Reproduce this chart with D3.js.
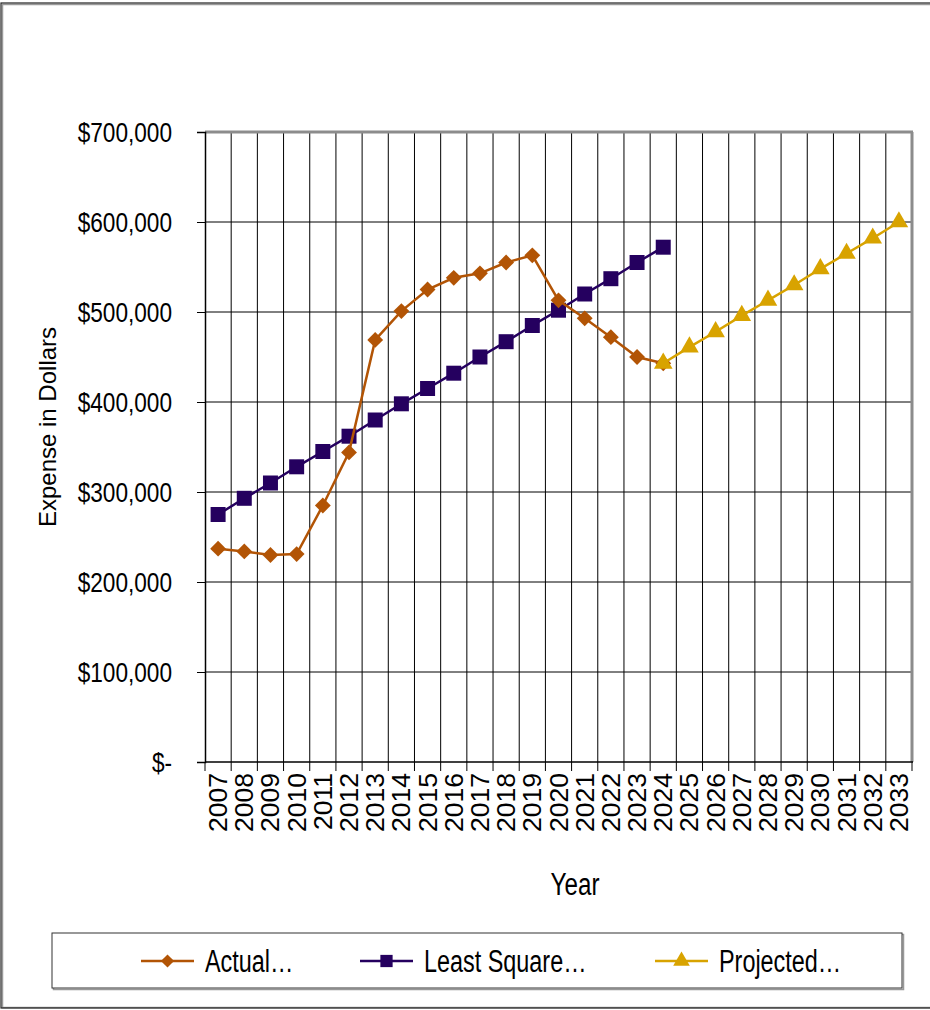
<!DOCTYPE html>
<html>
<head>
<meta charset="utf-8">
<script src="https://cdn.jsdelivr.net/npm/d3@7/dist/d3.min.js"></script>
<style>
  html, body { margin: 0; padding: 0; background: #fff; }
  svg { display: block; }
  text { font-family: "Liberation Sans", Arial, sans-serif; fill: #000; }
</style>
</head>
<body>
<svg id="chart" width="930" height="1010"></svg>
<script>
// Years on the category axis
const years = ["2007","2008","2009","2010","2011","2012","2013","2014","2015","2016","2017","2018","2019","2020","2021","2022","2023","2024","2025","2026","2027","2028","2029","2030","2031","2032","2033"];

// Actual expense, 2007-2024
const actualYears = ["2007","2008","2009","2010","2011","2012","2013","2014","2015","2016","2017","2018","2019","2020","2021","2022","2023","2024"];
const actualValues = [237000, 234000, 230000, 231000, 285000, 344000, 469000, 501000, 525000, 538000, 543000, 555000, 563000, 513000, 493000, 472000, 450000, 443000];

// Least-squares trend, 2007-2024
const lsqYears = actualYears;
const lsqValues = [275000, 293000, 310000, 328000, 345000, 362000, 380000, 398000, 415000, 432000, 450000, 467000, 485000, 502000, 520000, 537000, 555000, 572000];

// Projected expense, 2024-2033
const projYears = ["2024","2025","2026","2027","2028","2029","2030","2031","2032","2033"];
const projValues = [443000, 461000, 478000, 496000, 513000, 530000, 548000, 565000, 582000, 600000];

// Value axis ticks
const yTicks = [0, 100000, 200000, 300000, 400000, 500000, 600000, 700000];

const seriesNames = ["Actual\u2026", "Least Square\u2026", "Projected\u2026"];
const colors = { actual: "#B25405", lsq: "#25005F", proj: "#D8A300" };

const svg = d3.select("#chart");

// Outer frame
svg.append("rect")
  .attr("x", 2.5).attr("y", 4.5).attr("width", 940).attr("height", 1003)
  .attr("fill", "none").attr("stroke", "#9a9a9a").attr("stroke-width", 1.5);
svg.append("rect")
  .attr("x", 1).attr("y", 3).attr("width", 940).attr("height", 1005)
  .attr("fill", "none").attr("stroke", "#222").attr("stroke-width", 1.2);

const plot = { left: 205, right: 912, top: 132, bottom: 762 };

const x = d3.scaleBand().domain(years).range([plot.left, plot.right]).padding(0);
const y = d3.scaleLinear().domain([0, 700000]).range([plot.bottom, plot.top]);
const cx = d => x(d) + x.bandwidth() / 2;

const g = svg.append("g");

// Vertical grid lines at category boundaries
const bounds = years.map(d => x(d)).concat([plot.right]);
g.append("g").selectAll("line").data(bounds.slice(1, -1)).join("line")
  .attr("x1", d => d).attr("x2", d => d)
  .attr("y1", plot.top).attr("y2", plot.bottom)
  .attr("stroke", "#000").attr("stroke-width", 1);

// Horizontal grid lines
g.append("g").selectAll("line").data(yTicks.filter(t => t > 0 && t < 700000)).join("line")
  .attr("x1", plot.left).attr("x2", plot.right)
  .attr("y1", d => y(d)).attr("y2", d => y(d))
  .attr("stroke", "#000").attr("stroke-width", 1);

// Plot border (top and right in grey)
g.append("line").attr("x1", plot.left).attr("x2", plot.right + 1)
  .attr("y1", plot.top).attr("y2", plot.top)
  .attr("stroke", "#8c8c8c").attr("stroke-width", 3);
g.append("line").attr("x1", plot.right).attr("x2", plot.right)
  .attr("y1", plot.top).attr("y2", plot.bottom)
  .attr("stroke", "#8c8c8c").attr("stroke-width", 3);

// Y axis
const yAxis = d3.axisLeft(y).tickValues(yTicks).tickSize(8).tickPadding(0)
  .tickFormat(() => "");
const ya = svg.append("g").attr("transform", `translate(${plot.left},0)`).call(yAxis);
ya.select(".domain").attr("stroke", "#000").attr("stroke-width", 1.5);
ya.selectAll(".tick line").attr("stroke", "#000").attr("stroke-width", 1);

// Y tick labels, slightly condensed
svg.append("g").selectAll("text").data(yTicks).join("text")
  .attr("transform", d => `translate(172,${y(d) + 10}) scale(0.87,1.06)`)
  .attr("text-anchor", "end")
  .style("font-size", "26px")
  .text(d => d === 0 ? "$-" : "$" + d3.format(",")(d));

// X axis with ticks at category boundaries
const xa = svg.append("g").attr("transform", `translate(0,${plot.bottom})`);
xa.append("line").attr("x1", plot.left).attr("x2", plot.right + 1)
  .attr("y1", 0).attr("y2", 0).attr("stroke", "#000").attr("stroke-width", 1.5);
xa.selectAll("line.tk").data(bounds).join("line").attr("class", "tk")
  .attr("x1", d => d).attr("x2", d => d).attr("y1", 0).attr("y2", 9)
  .attr("stroke", "#000").attr("stroke-width", 1);
xa.selectAll("text").data(years).join("text")
  .attr("transform", d => `translate(${cx(d) + 9},11) rotate(-90) scale(1.02,1)`)
  .attr("text-anchor", "end")
  .style("font-size", "26px")
  .text(d => d);

// Axis titles
svg.append("text")
  .attr("transform", "translate(56,427) rotate(-90)")
  .attr("text-anchor", "middle")
  .style("font-size", "24px")
  .text("Expense in Dollars");
svg.append("text")
  .attr("transform", "translate(575,895) scale(0.93,1.2)")
  .attr("text-anchor", "middle")
  .style("font-size", "26px")
  .text("Year");

// Marker shapes
const diamond = d3.symbol().type(d3.symbolDiamond2).size(160);
const square = d3.symbol().type(d3.symbolSquare).size(225);
const triangle = d3.symbol().type(d3.symbolTriangle).size(150);

function drawSeries(xs, vs, color, sym) {
  const pts = xs.map((d, i) => [cx(d), y(vs[i])]);
  const line = d3.line();
  g.append("path").attr("d", line(pts))
    .attr("fill", "none").attr("stroke", color).attr("stroke-width", 2.5);
  g.append("g").selectAll("path").data(pts).join("path")
    .attr("transform", p => `translate(${p[0]},${p[1]})`)
    .attr("d", sym)
    .attr("fill", color);
}

drawSeries(lsqYears, lsqValues, colors.lsq, square);
drawSeries(actualYears, actualValues, colors.actual, diamond);
drawSeries(projYears, projValues, colors.proj, triangle);

// Legend
const leg = svg.append("g");
leg.append("rect").attr("x", 53.5).attr("y", 934.5).attr("width", 850).attr("height", 55)
  .attr("fill", "none").attr("stroke", "#999").attr("stroke-width", 1.5);
leg.append("rect").attr("x", 52).attr("y", 933).attr("width", 850).attr("height", 55)
  .attr("fill", "#fff").attr("stroke", "#333").attr("stroke-width", 1);

const legendItems = [
  { name: seriesNames[0], color: colors.actual, sym: d3.symbol().type(d3.symbolDiamond2).size(110), x0: 141 },
  { name: seriesNames[1], color: colors.lsq, sym: d3.symbol().type(d3.symbolSquare).size(150), x0: 360 },
  { name: seriesNames[2], color: colors.proj, sym: d3.symbol().type(d3.symbolTriangle).size(120), x0: 655 }
];
const li = leg.selectAll("g.item").data(legendItems).join("g").attr("class", "item");
li.append("line")
  .attr("x1", d => d.x0).attr("x2", d => d.x0 + 53)
  .attr("y1", 961).attr("y2", 961)
  .attr("stroke", d => d.color).attr("stroke-width", 2.5);
li.append("path")
  .attr("transform", d => `translate(${d.x0 + 26.5},961)`)
  .attr("d", d => d.sym())
  .attr("fill", d => d.color);
li.append("text")
  .attr("transform", d => `translate(${d.x0 + 64},972) scale(0.9,1.24)`)
  .style("font-size", "26px")
  .text(d => d.name);
</script>
</body>
</html>
